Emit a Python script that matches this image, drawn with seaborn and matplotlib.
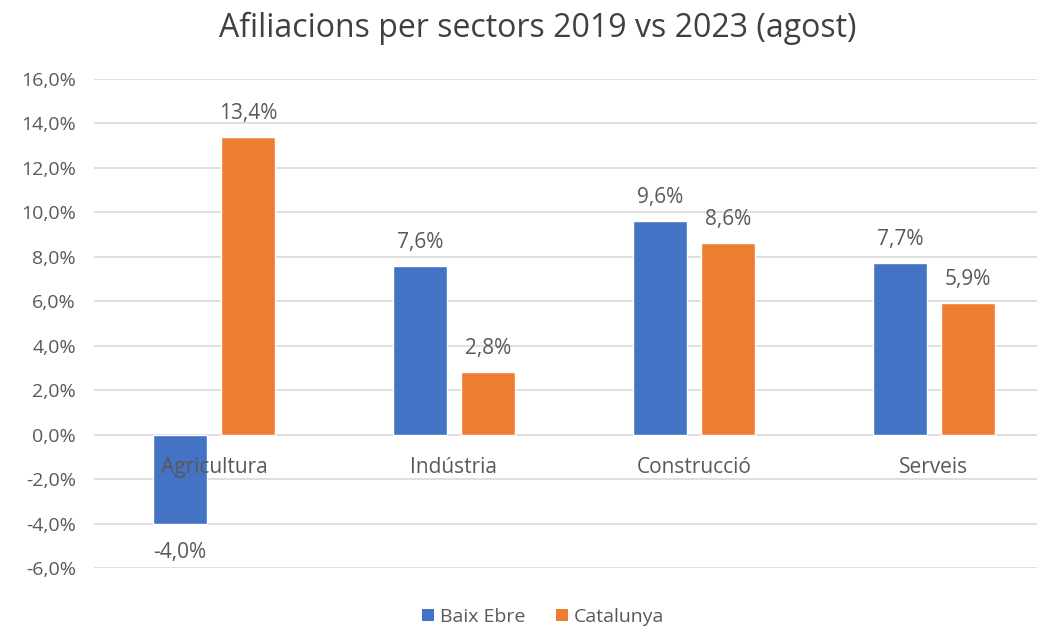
import matplotlib
matplotlib.use("Agg")
import matplotlib.pyplot as plt
import seaborn as sns
import pandas as pd
import numpy as np
from matplotlib.patches import Patch

categories = ["Agricultura", "Indústria", "Construcció", "Serveis"]
series_names = ["Baix Ebre", "Catalunya"]
baix_ebre = [-4.0, 7.6, 9.6, 7.7]
catalunya = [13.4, 2.8, 8.6, 5.9]
yticks = [-6, -4, -2, 0, 2, 4, 6, 8, 10, 12, 14, 16]

df = pd.DataFrame({
    "Sector": categories * 2,
    "Serie": [series_names[0]] * 4 + [series_names[1]] * 4,
    "Valor": baix_ebre + catalunya,
})

sns.set_theme(style="white")
plt.rcParams["font.family"] = ["Open Sans", "DejaVu Sans"]
txt = "#595959"
colors = ["#4472C4", "#ED7D31"]

fig = plt.figure(figsize=(10.37, 6.27), dpi=100)
ax = fig.add_axes([94 / 1037, 1 - 568 / 627, 960 / 1037, (568 - 79) / 627])

sns.barplot(data=df, x="Sector", y="Valor", hue="Serie", order=categories,
            hue_order=series_names, palette=colors, width=0.567, gap=0.206,
            ax=ax, legend=False, saturation=1)

ax.set_ylim(-6, 16)
ax.set_xlim(-0.5, 3.5)
ax.set_yticks(yticks)
ax.set_yticklabels([f"{v:.1f}%".replace(".", ",") for v in yticks], color=txt, fontsize=14)
ax.yaxis.grid(True, color="#D9D9D9", linewidth=1.2)
ax.set_axisbelow(True)
for s in ax.spines.values():
    s.set_visible(False)
ax.tick_params(axis="y", length=0, pad=13)
ax.set_xticks([])
ax.set_xlabel("")
ax.set_ylabel("")

for i, c in enumerate(categories):
    ax.annotate(c, (i, 0), xytext=(0, -24), textcoords="offset points",
                ha="center", va="center", fontsize=15, color=txt)

for cont in ax.containers:
    for bar in cont:
        h = bar.get_height()
        x = bar.get_x() + bar.get_width() / 2
        lab = f"{h:.1f}%".replace(".", ",")
        if h >= 0:
            ax.annotate(lab, (x, h), xytext=(0, 17), textcoords="offset points",
                        ha="center", va="center", fontsize=15, color=txt)
        else:
            ax.annotate(lab, (x, h), xytext=(0, -21), textcoords="offset points",
                        ha="center", va="center", fontsize=15, color=txt)

fig.text(538 / 1037, 1 - 28 / 627, "Afiliacions per sectors 2019 vs 2023 (agost)",
         ha="center", va="center", fontsize=23, color="#404040")

handles = [Patch(facecolor=c, edgecolor="none") for c in colors]
fig.legend(handles, series_names, loc="center", bbox_to_anchor=(543 / 1037, 1 - 617 / 627),
           ncol=2, frameon=False, fontsize=14, handlelength=0.6, handleheight=0.6,
           handletextpad=0.3, columnspacing=1.6, labelcolor=txt)

fig.savefig("out.png", dpi=100)
